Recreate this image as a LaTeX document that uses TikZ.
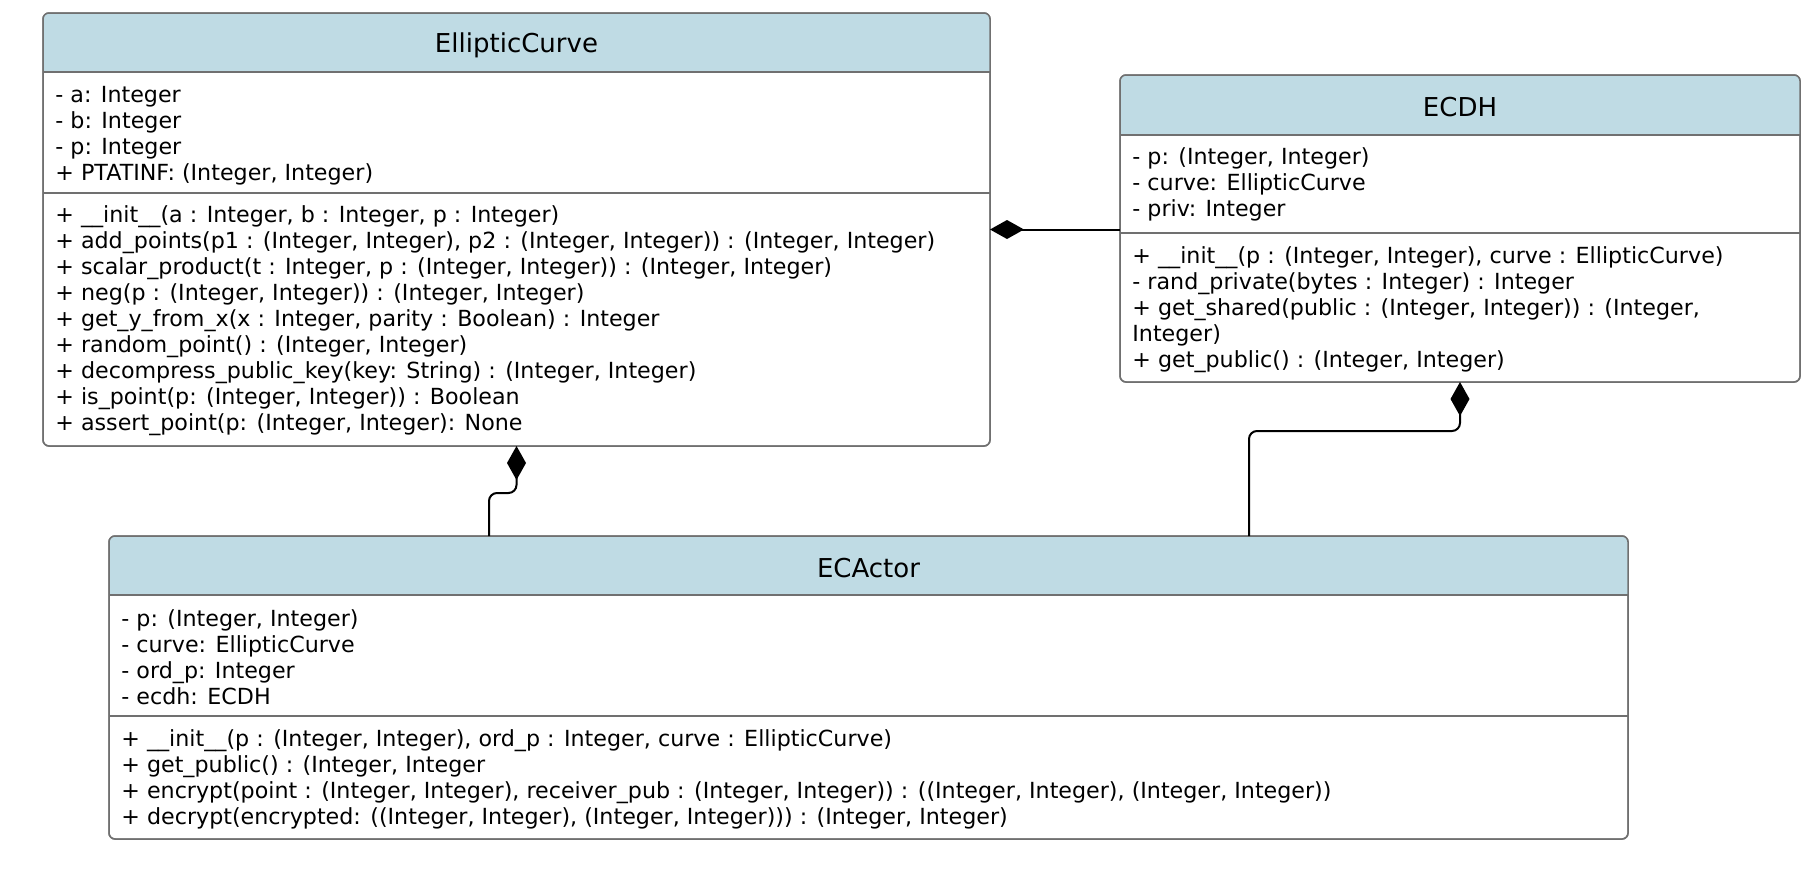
\documentclass[tikz,border=0pt]{standalone}
\usepackage{fontspec}
\setmainfont{DejaVu Sans}
\usetikzlibrary{positioning,arrows.meta}
\definecolor{headblue}{RGB}{191,219,228}
\definecolor{framegray}{RGB}{112,112,112}

\begin{document}
\begin{tikzpicture}[x=0.5pt,y=-0.5pt,
    classbox/.style={draw=framegray,line width=0.75pt,rounded corners=3pt,inner sep=0pt,outer sep=0pt},
    classtitle/.style={inner sep=0pt,font=\fontsize{13}{15}\selectfont},
    members/.style={anchor=north west,inner sep=0pt,align=left,font=\fontsize{11.1}{13}\selectfont},
    partline/.style={draw=framegray,line width=0.75pt},
    owns/.style={-{Diamond[length=17pt,width=9.5pt]},line width=1pt,rounded corners=4pt}]
        \useasboundingbox (0,0) rectangle (1820,894);

        % class boxes
        \node[classbox,minimum width=473.5pt,minimum height=216.5pt] (curve) at (516.5,229.5) {};
        \node[classbox,minimum width=340pt,minimum height=153.5pt] (ecdh) at (1460,228.5) {};
        \node[classbox,minimum width=759.5pt,minimum height=151.5pt] (actor) at (868.5,687.5) {};

        % title bars
        \foreach \cls/\bar in {curve/72,ecdh/135,actor/595} {
          \begin{scope}
            \clip[rounded corners=3pt] (\cls.north west) rectangle (\cls.south east);
            \fill[headblue] (\cls.north west) rectangle (\cls.east |- 0,\bar);
          \end{scope}
          \draw[classbox] (\cls.north west) rectangle (\cls.south east);
          \draw[partline] (\cls.west |- 0,\bar) -- (\cls.east |- 0,\bar);
        }
        \draw[partline] (curve.west |- 0,193) -- (curve.east |- 0,193);
        \draw[partline] (ecdh.west |- 0,233) -- (ecdh.east |- 0,233);
        \draw[partline] (actor.west |- 0,716) -- (actor.east |- 0,716);

        \node[classtitle] (curvetitle) at (curve.north |- 0,45) {EllipticCurve};
        \node[classtitle] (ecdhtitle) at (ecdh.north |- 0,107.5) {ECDH};
        \node[classtitle] (actortitle) at (actor.north |- 0,568) {ECActor};

        % members
        \node[members] (curveattr) at ([xshift=6pt]curve.west |- 0,84) {%
          \strut- a: Integer\\
          - b: Integer\\
          - p: Integer\\
          + PTATINF: (Integer, Integer)};
        \node[members] (curveops) at ([xshift=6pt]curve.west |- 0,204) {%
          \strut+ \_\_init\_\_(a : Integer, b : Integer, p : Integer)\\
          + add\_points(p1 : (Integer, Integer), p2 : (Integer, Integer)) : (Integer, Integer)\\
          + scalar\_product(t : Integer, p : (Integer, Integer)) : (Integer, Integer)\\
          + neg(p : (Integer, Integer)) : (Integer, Integer)\\
          + get\_y\_from\_x(x : Integer, parity : Boolean) : Integer\\
          + random\_point() : (Integer, Integer)\\
          + decompress\_public\_key(key: String) : (Integer, Integer)\\
          + is\_point(p: (Integer, Integer)) : Boolean\\
          + assert\_point(p: (Integer, Integer): None};
        \node[members] (ecdhattr) at ([xshift=6pt]ecdh.west |- 0,146) {%
          \strut- p: (Integer, Integer)\\
          - curve: EllipticCurve\\
          - priv: Integer};
        \node[members] (ecdhops) at ([xshift=6pt]ecdh.west |- 0,245) {%
          \strut+ \_\_init\_\_(p : (Integer, Integer), curve : EllipticCurve)\\
          - rand\_private(bytes : Integer) : Integer\\
          + get\_shared(public : (Integer, Integer)) : (Integer,\\
          Integer)\\
          + get\_public() : (Integer, Integer)};
        \node[members] (actorattr) at ([xshift=6pt]actor.west |- 0,608) {%
          \strut- p: (Integer, Integer)\\
          - curve: EllipticCurve\\
          - ord\_p: Integer\\
          - ecdh: ECDH};
        \node[members] (actorops) at ([xshift=6pt]actor.west |- 0,728) {%
          \strut+ \_\_init\_\_(p : (Integer, Integer), ord\_p : Integer, curve : EllipticCurve)\\
          + get\_public() : (Integer, Integer\\
          + encrypt(point : (Integer, Integer), receiver\_pub : (Integer, Integer)) : ((Integer, Integer), (Integer, Integer))\\
          + decrypt(encrypted: ((Integer, Integer), (Integer, Integer))) : (Integer, Integer)};

        % compositions
        \draw[owns] (ecdh.west |- curve.east) -- (curve.east);
        \draw[owns] ([xshift=190pt]actor.north west) -- ++(0,-43) -| (curve.south);
        \draw[owns] ([xshift=570pt]actor.north west) -- ++(0,-105) -| (ecdh.south);
\end{tikzpicture}
\end{document}
